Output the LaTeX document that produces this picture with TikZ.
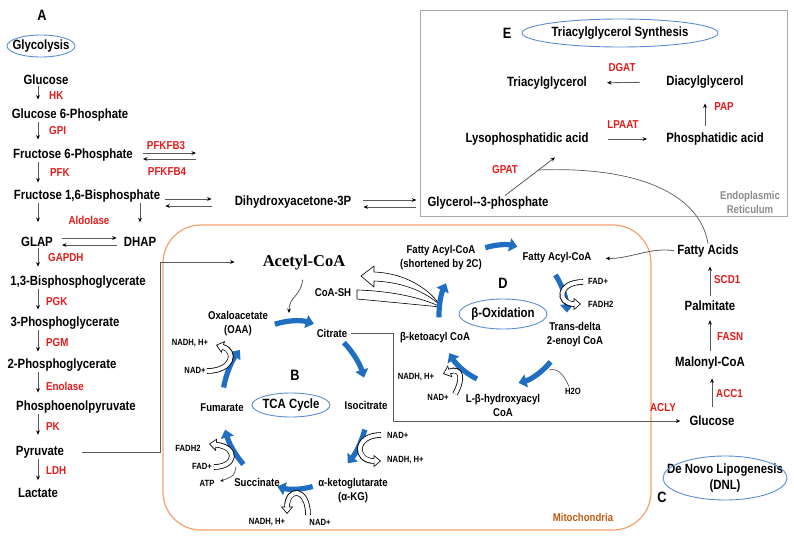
\documentclass[tikz,border=0pt]{standalone}
\usepackage{fontspec}
\setmainfont{Liberation Sans}[FakeStretch=0.85]
\newfontfamily\acfont{Liberation Serif}
\usepackage{tikz}
\usetikzlibrary{arrows.meta,calc}
\definecolor{enzred}{HTML}{E41B1B}
\definecolor{cycblue}{HTML}{1F6EC1}
\definecolor{ringblue}{HTML}{5B8DD2}
\definecolor{mitoline}{HTML}{F4A06E}
\definecolor{mitotext}{HTML}{C55A11}
\definecolor{erline}{HTML}{A8A8A8}
\definecolor{ertext}{HTML}{8C8C8C}
\definecolor{conn}{HTML}{5A5A5A}
\tikzset{
  lab/.style={font=\fontsize{13.4}{16}\selectfont\bfseries, inner sep=1pt, align=center},
  sub/.style={font=\fontsize{11.3}{14}\selectfont\bfseries, inner sep=1pt, align=center},
  cofac/.style={font=\fontsize{9}{10}\selectfont\bfseries, inner sep=1pt},
  enz/.style={font=\fontsize{11.5}{13}\selectfont\bfseries, text=enzred, inner sep=1pt},
  panel/.style={font=\fontsize{15}{16}\selectfont\bfseries, inner sep=1pt},
  ring/.style={draw=ringblue, line width=0.9pt},
  arr/.style={draw=conn, line width=0.8pt, -{Stealth[length=4.5pt,width=3.8pt,color=black]}},
  link/.style={draw=conn, line width=0.7pt},
  cyc/.style={draw=cycblue, line width=5.2pt, -{Triangle[length=8pt,width=13pt]}},
  holo/.style={draw=black, line width=5.6pt, -{Triangle[length=7.5pt,width=12pt]}},
  holi/.style={draw=white, line width=4pt, shorten >=1.3pt, -{Triangle[length=5.4pt,width=8.8pt]}},
  wedge/.style={draw=black, fill=white, line width=0.6pt, line join=round},
}
\newcommand{\hollow}[1]{\draw[holo] #1; \draw[holi] #1;}

\begin{document}
\begin{tikzpicture}[x=1pt, y=-1pt]
  \useasboundingbox (0,0) rectangle (794,538);

  % compartments
  \draw[erline, line width=1pt] (420,10) rectangle (787,216);
  \draw[mitoline, line width=1.2pt, rounded corners=38pt] (163,225) rectangle (651,530);
  \node[sub, text=ertext] (ertxt) at (750,202) {Endoplasmic\\Reticulum};
  \node[sub, text=mitotext] (mitotxt) at (583,517) {Mitochondria};

  % A: glycolysis
  \coordinate (ax) at (38,0);
  \node[panel] (pA) at (42,15) {A};
  \node[lab] (glyco) at (41,46) {Glycolysis};
  \draw[ring] (glyco) ellipse[x radius=34, y radius=11];
  \node[lab] (glc) at (46,80) {Glucose};
  \node[lab] (g6p) at (70,115) {Glucose 6-Phosphate};
  \node[lab] (f6p) at (73,155) {Fructose 6-Phosphate};
  \node[lab] (fbp) at (87,196) {Fructose 1,6-Bisphosphate};
  \node[lab] (glap) at (37,242) {GLAP};
  \node[lab] (dhap) at (140,242) {DHAP};
  \node[lab] (bpg) at (78,282) {1,3-Bisphosphoglycerate};
  \node[lab] (pg3) at (65,323) {3-Phosphoglycerate};
  \node[lab] (pg2) at (62,365) {2-Phosphoglycerate};
  \node[lab] (pep) at (76,407) {Phosphoenolpyruvate};
  \node[lab] (pyr) at (40,452) {Pyruvate};
  \node[lab] (lac) at (38,493) {Lactate};
  \node[lab] (dha3p) at (293,202) {Dihydroxyacetone-3P};

  \node[enz, anchor=west] (hk) at (48,96) {HK};
  \node[enz, anchor=west] (gpi) at (48,131) {GPI};
  \node[enz, anchor=west] (pfk) at (49,173) {PFK};
  \node[enz] (pfkfb3) at (166,146) {PFKFB3};
  \node[enz] (pfkfb4) at (167,172) {PFKFB4};
  \node[enz] (aldo) at (89,220) {Aldolase};
  \node[enz, anchor=west] (gapdh) at (47,258) {GAPDH};
  \node[enz, anchor=west] (pgk) at (45,302) {PGK};
  \node[enz, anchor=west] (pgm) at (45,343) {PGM};
  \node[enz, anchor=west] (eno) at (45,386) {Enolase};
  \node[enz, anchor=west] (pk) at (45,427) {PK};
  \node[enz, anchor=west] (ldh) at (45,471) {LDH};

  \draw[arr, shorten >=8pt] (glc.south -| ax) -- (g6p.north -| ax);
  \draw[arr, shorten >=8pt] (g6p.south -| ax) -- (f6p.north -| ax);
  \draw[arr, shorten >=6pt] (f6p.south -| ax) -- (fbp.north -| ax);
  \draw[arr, shorten >=14pt] (fbp.south -| ax) -- (glap.north -| ax);
  \draw[arr, shorten >=14pt] (fbp.south -| dhap) -- (dhap.north);
  \draw[arr, shorten >=8pt] (glap.south -| ax) -- (bpg.north -| ax);
  \draw[arr, shorten >=6pt] (bpg.south -| ax) -- (pg3.north -| ax);
  \draw[arr, shorten >=6pt] (pg3.south -| ax) -- (pg2.north -| ax);
  \draw[arr, shorten >=7pt] (pg2.south -| ax) -- (pep.north -| ax);
  \draw[arr, shorten >=10pt] (pep.south -| ax) -- (pyr.north -| ax);
  \draw[arr, shorten >=7pt] (pyr.south -| ax) -- (lac.north -| ax);

  % reversible steps
  \draw[arr] ([yshift=2pt]f6p.east) ++(9,0) -- ++(53,0);
  \draw[arr] ([yshift=-4pt]f6p.east) ++(62,0) -- ++(-53,0);
  \draw[arr, shorten <=8pt, shorten >=6pt] ([yshift=4pt]glap.east) -- ([yshift=4pt]dhap.west);
  \draw[arr, shorten <=6pt, shorten >=8pt] ([yshift=-3pt]dhap.west) -- ([yshift=-3pt]glap.east);
  \draw[arr, shorten <=4pt, shorten >=22pt] ([yshift=-3pt]fbp.east) -- ([yshift=3pt]dha3p.west);
  \draw[arr, shorten <=22pt, shorten >=4pt] ([yshift=-4pt]dha3p.west) -- ([yshift=-10pt]fbp.east);

  % E: triacylglycerol synthesis
  \node[panel] (pE) at (507,33) {E};
  \node[lab] (tgsyn) at (620,33) {Triacylglycerol Synthesis};
  \draw[ring] (tgsyn) ellipse[x radius=98, y radius=14];
  \node[lab] (tag) at (547,83) {Triacylglycerol};
  \node[lab] (dag) at (705,82) {Diacylglycerol};
  \node[lab] (lpa) at (527,139) {Lysophosphatidic acid};
  \node[lab] (pa) at (715,139) {Phosphatidic acid};
  \node[lab] (g3p) at (488,203) {Glycerol-{}-3-phosphate};
  \node[enz] (dgat) at (622,68) {DGAT};
  \node[enz] (pap) at (724,107) {PAP};
  \node[enz] (lpaat) at (623,125) {LPAAT};
  \node[enz] (gpat) at (505,170) {GPAT};
  \coordinate (gjoin) at (538,170);

  \draw[arr, shorten <=11pt, shorten >=10pt] ([yshift=2pt]dha3p.east) -- ([yshift=3pt]g3p.west);
  \draw[arr, shorten <=10pt, shorten >=11pt] ([yshift=-4pt]g3p.west) -- ([yshift=-5pt]dha3p.east);
  \draw[arr, shorten <=25pt, shorten >=19pt] (dag.west) -- (tag.east);
  \draw[arr, shorten <=18pt, shorten >=18pt] (lpa.east) -- (pa.west);
  \draw[arr, shorten <=6pt, shorten >=14pt] (pa.north -| dag.south) -- (dag.south);
  \draw[arr] ([xshift=17pt]g3p.north) -- ([xshift=28pt,yshift=-11pt]lpa.south);

  % C: de novo lipogenesis
  \node[lab] (fa) at (708,251) {Fatty Acids};
  \node[lab] (pal) at (710,306) {Palmitate};
  \node[lab] (mal) at (710,363) {Malonyl-CoA};
  \node[lab] (glc2) at (712,421) {Glucose};
  \node[enz, anchor=west] (scd) at (713,280) {SCD1};
  \node[enz, anchor=west] (fasn) at (716,337) {FASN};
  \node[enz, anchor=west] (acc) at (715,394) {ACC1};
  \node[enz] (acly) at (663,408) {ACLY};
  \node[lab] (dnl) at (725,478) {De Novo Lipogenesis\\(DNL)};
  \draw[ring] (dnl) ellipse[x radius=62, y radius=22];
  \node[panel] (pC) at (662,497) {C};

  \draw[arr, shorten <=8pt, shorten >=8pt] (glc2.north) -- (glc2.north |- mal.south);
  \draw[arr, shorten <=5pt, shorten >=8pt] (mal.north) -- (mal.north |- pal.south);
  \draw[arr, shorten <=4pt, shorten >=8pt] (pal.north) -- (pal.north |- fa.south);
  \draw[link] (gjoin) .. controls (640,166) and (700,195) .. (fa.north);

  % B: TCA cycle
  \coordinate (tca) at (295,405);
  \coordinate (pyrup) at (160,262);
  \coordinate (citdn) at (393,421);
  \coordinate (acin) at (289,313);
  \node[font={\acfont\fontsize{16.5}{18}\selectfont\bfseries}, inner sep=1pt] (acoa) at (304,263) {Acetyl-CoA};
  \node[sub] (coash) at (333,293) {CoA-SH};
  \node[sub] (oaa) at (238,324) {Oxaloacetate\\(OAA)};
  \node[sub] (cit) at (332,333) {Citrate};
  \node[sub] (iso) at (366,405) {Isocitrate};
  \node[sub] (akg) at (353,491) {α-ketoglutarate\\(α-KG)};
  \node[sub] (suc) at (257,482) {Succinate};
  \node[sub] (fum) at (222,408) {Fumarate};
  \node[panel] (pB) at (295,375) {B};
  \node[lab] (tcac) at (291,405) {TCA Cycle};
  \draw[ring] (tcac) ellipse[x radius=39, y radius=12];

  \node[cofac] (nadh1) at (190,343) {NADH, H+};
  \node[cofac] (nad1) at (195,370) {NAD+};
  \node[cofac] (fadh1) at (188,448) {FADH2};
  \node[cofac] (fad1) at (202,466) {FAD+};
  \node[cofac] (atp) at (207,483) {ATP};
  \node[cofac, anchor=west] (nad2) at (386,435) {NAD+};
  \node[cofac, anchor=west] (nadh2) at (386,460) {NADH, H+};
  \node[cofac] (nadh3) at (267,522) {NADH, H+};
  \node[cofac] (nad3) at (320,522) {NAD+};

  \draw[arr, shorten <=17pt, shorten >=27pt] (pyr.east) -| (pyrup) -- (pyrup -| acoa.west);
  \draw[arr, shorten <=3pt, shorten >=8pt] (cit.east) -| (citdn) -- (glc2.west);
  \draw[arr, shorten <=8pt] (acoa.south) .. controls (300,298) and (289,296) .. (acin);

  % D: beta-oxidation
  \coordinate (box) at (503,315);
  \node[sub] (facs) at (441,258) {Fatty Acyl-CoA\\(shortened by 2C)};
  \node[sub] (fac) at (557,258) {Fatty Acyl-CoA};
  \node[panel] (pD) at (503,283) {D};
  \node[lab] (betaox) at (503,314) {β-Oxidation};
  \draw[ring] (betaox) ellipse[x radius=44, y radius=15];
  \node[sub] (trans) at (575,335) {Trans-delta\\2-enoyl CoA};
  \node[sub] (lbh) at (503,405) {L-β-hydroxyacyl\\CoA};
  \node[sub] (bka) at (435,338) {β-ketoacyl CoA};
  \node[cofac, anchor=west] (fad2) at (587,281) {FAD+};
  \node[cofac, anchor=west] (fadh2) at (587,304) {FADH2};
  \node[cofac] (h2o) at (573,391) {H2O};
  \node[cofac] (nadh4) at (416,377) {NADH, H+};
  \node[cofac] (nad4) at (438,397) {NAD+};

  \draw[arr, shorten <=2pt, shorten >=13pt] (fa.west) .. controls (650,247) and (630,259) .. (fac.east);
  \draw[link] ([xshift=-4pt]h2o.north) .. controls (563,372) and (556,368) .. (549,370);

  % acetyl-CoA and CoA-SH leaving the spiral
  \filldraw[wedge] (361,276) -- (374,266) -- (374,272) .. controls (400,273) and (425,284) .. (441,306)
    .. controls (424,290) and (400,282) .. (374,281) -- (374,287) -- cycle;
  \filldraw[wedge] (357,290) .. controls (390,291) and (420,297) .. (441,307)
    .. controls (420,305) and (390,302) .. (357,299) -- cycle;

  % cycle arrows
  \draw[cyc] (tca) ++(254:73 and 84) arc[start angle=254, end angle=285, x radius=73, y radius=84];
  \draw[cyc] (tca) ++(312:73 and 84) arc[start angle=312, end angle=341, x radius=73, y radius=84];
  \draw[cyc] (tca) ++(17:73 and 84) arc[start angle=17, end angle=44, x radius=73, y radius=84];
  \draw[cyc] (tca) ++(76:73 and 84) arc[start angle=76, end angle=104, x radius=73, y radius=84];
  \draw[cyc] (tca) ++(135:73 and 84) arc[start angle=135, end angle=163, x radius=73, y radius=84];
  \draw[cyc] (tca) ++(192:73 and 84) arc[start angle=192, end angle=221, x radius=73, y radius=84];

  \draw[cyc] (box) ++(178:64 and 70) arc[start angle=178, end angle=207, x radius=64, y radius=70];
  \draw[cyc] (box) ++(254:64 and 70) arc[start angle=254, end angle=283, x radius=64, y radius=70];
  \draw[cyc] (box) ++(325:64 and 70) arc[start angle=325, end angle=358, x radius=64, y radius=70];
  \draw[cyc] (box) ++(42:64 and 70) arc[start angle=42, end angle=76, x radius=64, y radius=70];
  \draw[cyc] (box) ++(114:64 and 70) arc[start angle=114, end angle=147, x radius=64, y radius=70];

  % cofactors
  \hollow{(207,371) .. controls (233,371) and (237,351) .. (216,345)}
  \hollow{(214,467) .. controls (236,467) and (239,447) .. (209,444)}
  \hollow{(381,435) .. controls (354,435) and (354,461) .. (381,461)}
  \hollow{(308,515) .. controls (308,487) and (287,487) .. (287,514)}
  \hollow{(583,282) .. controls (557,282) and (557,304) .. (581,304)}
  \hollow{(455,394) .. controls (464,378) and (461,367) .. (443,374)}
  \draw[arr, shorten >=5pt, -{Stealth[length=3.5pt,width=3pt,color=black]}] (236,467) .. controls (234,476) .. (atp.east);
\end{tikzpicture}
\end{document}
